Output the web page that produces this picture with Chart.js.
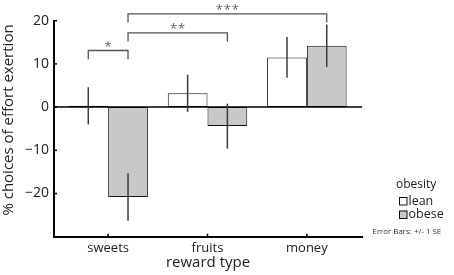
<!DOCTYPE html>
<html>
<head>
<meta charset="utf-8">
<script src="https://cdn.jsdelivr.net/npm/chart.js@4/dist/chart.umd.min.js"></script>
<style>
html,body{margin:0;padding:0;background:#fff;}
#wrap{position:relative;width:454px;height:275px;}
</style>
</head>
<body>
<div id="wrap"><canvas id="c" width="454" height="275"></canvas></div>
<script>
// ---- data ----
const categories = ['sweets', 'fruits', 'money'];
const seriesNames = ['lean', 'obese'];
const leanMeans = [0.3, 3.2, 11.5];
const leanSE = [4.3, 4.3, 4.7];
const obeseMeans = [-20.8, -4.4, 14.2];
const obeseSE = [5.5, 5.2, 4.9];
const yTicks = [-20, -10, 0, 10, 20];
const yTitle = '% choices of effort exertion';
const xTitle = 'reward type';
const legendTitle = 'obesity';
const noteText = 'Error Bars: +/- 1 SE';
// significance brackets: [fromCategory, fromSeries, toCategory, toSeries]
const bracketFrom = [[0, 0], [0, 1], [0, 1]];
const bracketTo = [[0, 1], [1, 1], [2, 1]];
const bracketLevels = [13.1, 17.2, 21.6];
const bracketLabels = ['*', '**', '***'];

const FONT = "'Open Sans', 'Noto Sans', sans-serif";
const fills = ['#ffffff', '#c8c8c8'];
const means = [leanMeans, obeseMeans];
const ses = [leanSE, obeseSE];

const datasets = seriesNames.map((name, s) => ({
  label: name,
  data: means[s].map((v, i) => ({ x: i, y: v })),
  backgroundColor: fills[s],
  borderColor: '#111',
  borderWidth: 1,
  borderSkipped: false,
  categoryPercentage: 0.8,
  barPercentage: 1.0
}));

const extras = {
  id: 'extras',
  afterDatasetsDraw(chart) {
    const ctx = chart.ctx;
    const xs = chart.scales.x, ys = chart.scales.y;
    const area = chart.chartArea;
    ctx.save();
    // zero line
    ctx.strokeStyle = '#000';
    ctx.lineWidth = 1.5;
    const y0 = ys.getPixelForValue(0);
    ctx.beginPath(); ctx.moveTo(area.left, y0); ctx.lineTo(area.right, y0); ctx.stroke();
    // error bars
    ctx.strokeStyle = '#3a3a3a';
    ctx.lineWidth = 1.5;
    seriesNames.forEach((n, s) => {
      const meta = chart.getDatasetMeta(s);
      meta.data.forEach((bar, i) => {
        const m = means[s][i], e = ses[s][i];
        ctx.beginPath();
        ctx.moveTo(bar.x, ys.getPixelForValue(m + e));
        ctx.lineTo(bar.x, ys.getPixelForValue(m - e));
        ctx.stroke();
      });
    });
    // inward ticks
    ctx.strokeStyle = '#000';
    ctx.lineWidth = 1.5;
    yTicks.forEach(v => {
      const y = ys.getPixelForValue(v);
      ctx.beginPath(); ctx.moveTo(area.left, y); ctx.lineTo(area.left + 3, y); ctx.stroke();
    });
    categories.forEach((c, i) => {
      const x = xs.getPixelForValue(i);
      ctx.beginPath(); ctx.moveTo(x, area.bottom); ctx.lineTo(x, area.bottom - 3); ctx.stroke();
    });
    // brackets
    ctx.strokeStyle = '#555';
    ctx.lineWidth = 1.3;
    ctx.fillStyle = '#666';
    ctx.font = '13px ' + FONT;
    ctx.textAlign = 'center';
    ctx.textBaseline = 'alphabetic';
    bracketLevels.forEach((lvl, k) => {
      const a = chart.getDatasetMeta(bracketFrom[k][1]).data[bracketFrom[k][0]];
      const b = chart.getDatasetMeta(bracketTo[k][1]).data[bracketTo[k][0]];
      const yb = ys.getPixelForValue(lvl);
      const yl = ys.getPixelForValue(lvl - 2);
      ctx.beginPath();
      ctx.moveTo(a.x, yl); ctx.lineTo(a.x, yb); ctx.lineTo(b.x, yb); ctx.lineTo(b.x, yl);
      ctx.stroke();
      const n = bracketLabels[k].length;
      const cx = (a.x + b.x) / 2;
      for (let j = 0; j < n; j++) {
        ctx.fillText('*', cx + (j - (n - 1) / 2) * 8, yb);
      }
    });
    // y title
    ctx.fillStyle = '#222';
    ctx.font = '15px ' + FONT;
    ctx.textBaseline = 'middle';
    ctx.save();
    ctx.translate(9, 120);
    ctx.rotate(-Math.PI / 2);
    ctx.fillText(yTitle, 0, 0);
    ctx.restore();
    // legend
    ctx.textAlign = 'left';
    ctx.font = '12px ' + FONT;
    ctx.fillText(legendTitle, 396, 185);
    seriesNames.forEach((n, s) => {
      const ty = 201 + s * 13.5;
      ctx.fillStyle = fills[s];
      ctx.fillRect(399, ty - 4, 8, 8);
      ctx.strokeStyle = '#111';
      ctx.lineWidth = 1;
      ctx.strokeRect(399.5, ty - 3.5, 7.5, 7.5);
      ctx.fillStyle = '#222';
      ctx.font = '12.5px ' + FONT;
      ctx.fillText(n, 408.5, ty);
    });
    ctx.font = '7.9px ' + FONT;
    ctx.fillStyle = '#333';
    ctx.fillText(noteText, 372.5, 232);
    ctx.restore();
  }
};

new Chart(document.getElementById('c'), {
  type: 'bar',
  data: { datasets },
  options: {
    responsive: false,
    animation: false,
    layout: { padding: { top: 20.7, right: 92, left: 0, bottom: 0 } },
    plugins: { legend: { display: false }, tooltip: { enabled: false } },
    scales: {
      x: {
        type: 'linear',
        offset: false,
        min: -0.545,
        max: 2.555,
        grid: { display: false, drawTicks: false, offset: false },
        border: { display: true, color: '#000', width: 2 },
        afterBuildTicks: (s) => { s.ticks = categories.map((c, i) => ({ value: i })); },
        afterFit: (s) => { s.height = 38.3; },
        ticks: {
          autoSkip: false,
          maxRotation: 0,
          padding: 4,
          color: '#222',
          font: { family: FONT, size: 13 },
          callback: (v) => categories[v]
        },
        title: {
          display: true,
          text: xTitle,
          color: '#222',
          font: { family: FONT, size: 15 },
          padding: { top: 0, bottom: 3 }
        }
      },
      y: {
        min: -30,
        max: 20,
        grid: { display: false, drawTicks: false },
        border: { display: true, color: '#000', width: 2 },
        afterBuildTicks: (s) => { s.ticks = yTicks.map(v => ({ value: v })); },
        afterFit: (s) => { s.width = 54; },
        ticks: {
          padding: 5,
          color: '#222',
          font: { family: FONT, size: 14 },
          callback: (v) => (v < 0 ? '\u2212' + Math.abs(v) : String(v))
        }
      }
    }
  },
  plugins: [extras]
});
</script>
</body>
</html>
